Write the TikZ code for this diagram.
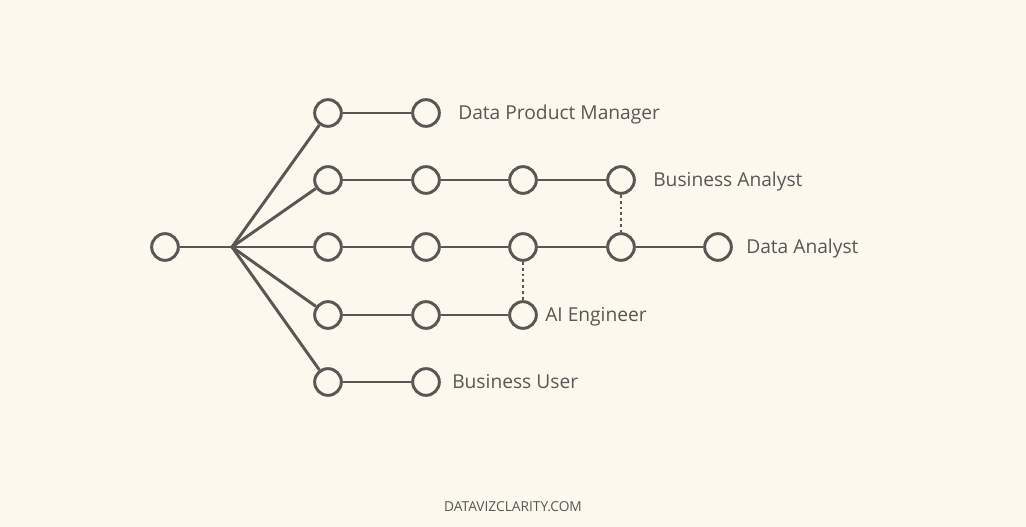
\documentclass[tikz,border=0pt]{standalone}
\usepackage{fontspec}
\setmainfont{Open Sans}
\usepackage{xcolor}
\usepackage{tikz}
\usetikzlibrary{positioning, calc}

\definecolor{paper}{HTML}{FDF8EE}
\definecolor{ink}{HTML}{595653}

\begin{document}
\begin{tikzpicture}[
    x=0.75pt, y=-0.75pt,
    stop/.style={circle, draw=ink, fill=paper, line width=2.2pt, minimum size=20pt, inner sep=0pt},
    track/.style={draw=ink, line width=2.2pt},
    link/.style={draw=ink, line width=2.2pt, dash pattern=on 2.2pt off 2.2pt},
    role/.style={anchor=base west, text=ink, font=\fontsize{14.4}{16}\selectfont, inner sep=0pt}
]
\fill[paper] (0,0) rectangle (1026,527);
\useasboundingbox (0,0) rectangle (1026,527);

\node (start) at (165,247) [stop] {};
\coordinate (hub) at (232,247);

\node (a1) at (328,113) [stop] {};
\node (a2) at (426,113) [stop] {};
\node (b1) at (328,180) [stop] {};
\node (b2) at (426,180) [stop] {};
\node (b3) at (523,180) [stop] {};
\node (b4) at (621,180) [stop] {};
\node (c1) at (328,247) [stop] {};
\node (c2) at (426,247) [stop] {};
\node (c3) at (523,247) [stop] {};
\node (c4) at (621,247) [stop] {};
\node (c5) at (718,247) [stop] {};
\node (d1) at (328,315) [stop] {};
\node (d2) at (426,315) [stop] {};
\node (d3) at (523,315) [stop] {};
\node (e1) at (328,382) [stop] {};
\node (e2) at (426,382) [stop] {};

\draw[track] (start) -- (hub);
\draw[track] (hub) -- (a1);
\draw[track] (hub) -- (b1);
\draw[track] (hub) -- (c1);
\draw[track] (hub) -- (d1);
\draw[track] (hub) -- (e1);
\draw[track] (a1) -- (a2);
\draw[track] (b1) -- (b2) -- (b3) -- (b4);
\draw[track] (c1) -- (c2) -- (c3) -- (c4) -- (c5);
\draw[track] (d1) -- (d2) -- (d3);
\draw[track] (e1) -- (e2);
\draw[link] (b4) -- (c4);
\draw[link] (c3) -- (d3);

% labels sit with their capitals centred on the row
\node (pm) at (458,120) [role] {Data Product Manager};
\node (ba) at (653,187) [role] {Business Analyst};
\node (da) at (746,254) [role] {Data Analyst};
\node (ai) at (545,322) [role] {AI Engineer};
\node (bu) at (452,389) [role] {Business User};

\node (site) at (513,507) [text=ink, font=\fontsize{10.3}{12}\selectfont] {DATAVIZCLARITY.COM};
\end{tikzpicture}
\end{document}
